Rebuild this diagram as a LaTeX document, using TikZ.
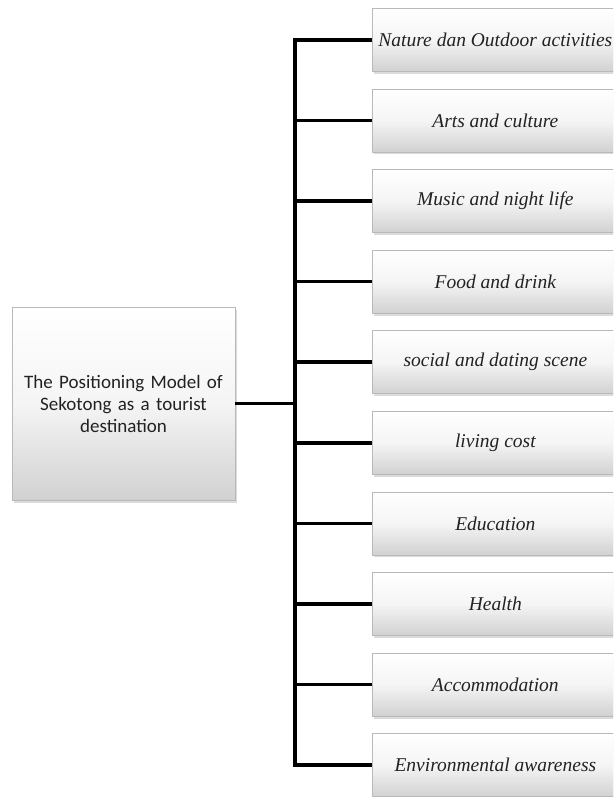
\documentclass[tikz,border=0pt]{standalone}
\usepackage{fontspec}
\setmainfont{Liberation Serif}
\newfontfamily\calfont{Carlito}
\usetikzlibrary{shadows}
\definecolor{txt}{HTML}{222222}
\tikzset{
  gbox/.style={rectangle, draw=gray!55, line width=0.7pt,
    top color=white, bottom color=gray!36, middle color=gray!8,
    drop shadow={shadow xshift=1.5pt, shadow yshift=-2.5pt, opacity=0.35, fill=gray!80},
    text=txt, align=center, inner sep=2pt},
  itembox/.style={gbox, minimum width=246pt, minimum height=63pt,
    font=\fontsize{19.5}{23}\selectfont\itshape, anchor=north west},
  mainbox/.style={gbox, minimum width=223pt, minimum height=193pt,
    font=\calfont\fontsize{19}{22}\selectfont, text width=215pt},
  conn/.style={line width=3.6pt, black}
}
\begin{document}
\begin{tikzpicture}[x=1pt, y=-1pt]
\useasboundingbox (0,0) rectangle (613,797);
\clip (0,0) rectangle (613,797);
\fill[white] (0,0) rectangle (613,797);
\node[mainbox] (main) at (123.5,403.5) {The Positioning Model of\\Sekotong as a tourist\\destination};
\foreach \t [count=\k from 0] in {Nature dan Outdoor activities, Arts and culture, Music and night life, Food and drink, social and dating scene, living cost, Education, Health, Accommodation, Environmental awareness}{
  \node[itembox] (b\k) at (372, 8+80.6*\k) {\t};
}
\coordinate (bar) at (295,403.5);
\draw[conn] (main.east) -- (bar);
\draw[conn, line join=miter] (b0.west) -| (bar) |- (b9.west);
\foreach \k in {1,...,8}{
  \draw[conn] (b\k.west -| bar) -- (b\k.west);
}
\end{tikzpicture}
\end{document}
